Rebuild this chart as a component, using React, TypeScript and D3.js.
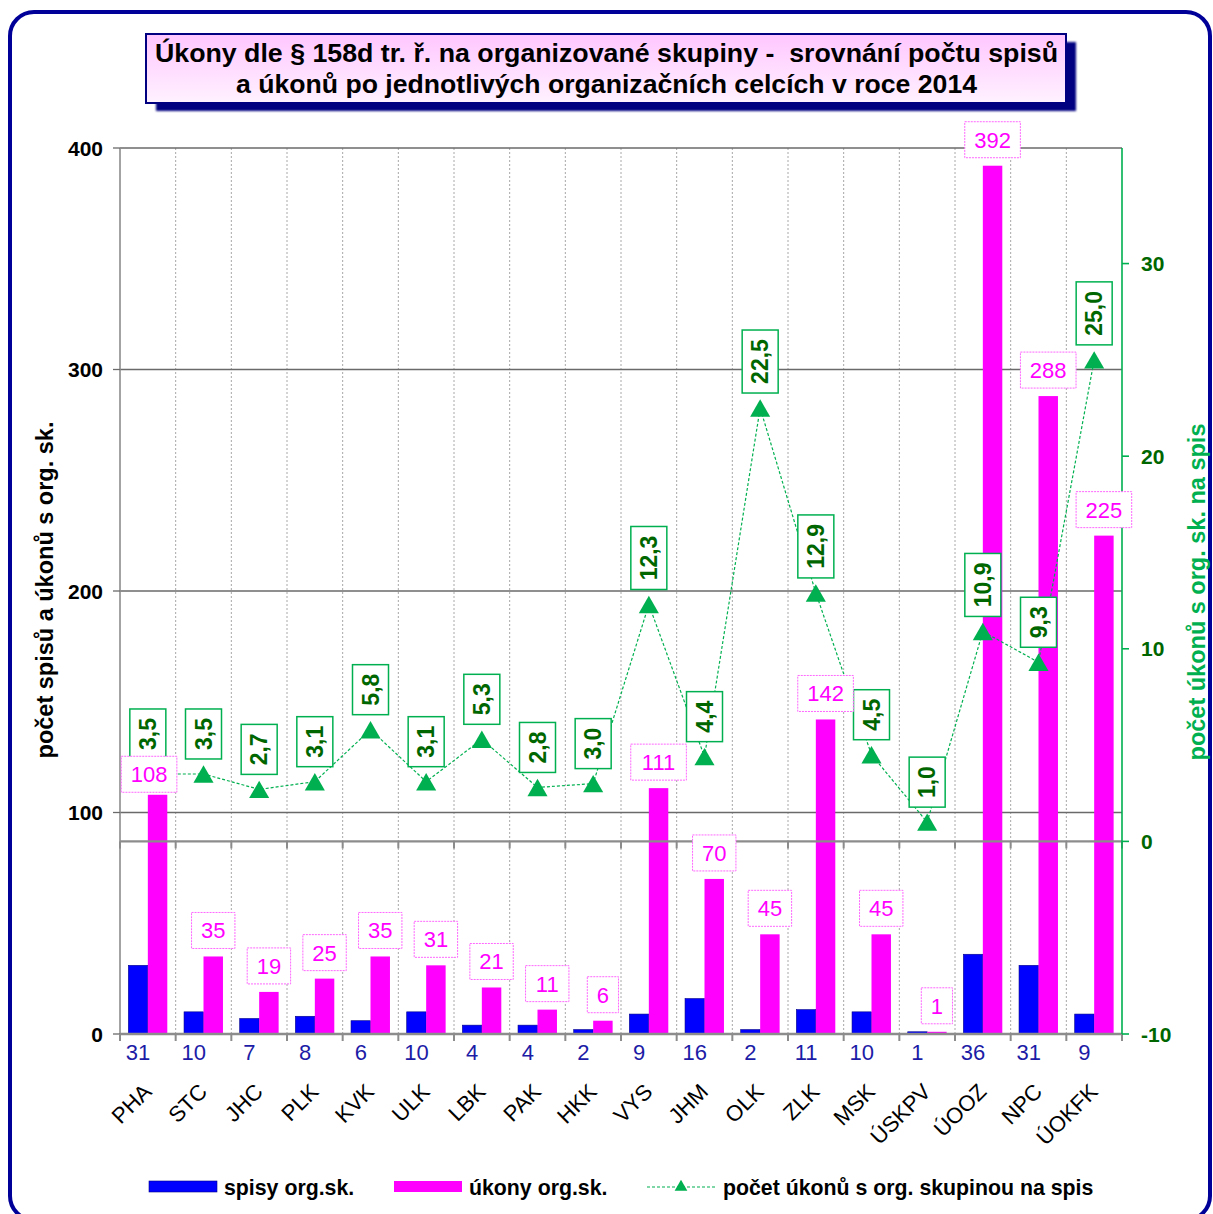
import React from "react";
import * as d3 from "d3";

const categories = ["PHA", "STC", "JHC", "PLK", "KVK", "ULK", "LBK", "PAK", "HKK", "VYS", "JHM", "OLK", "ZLK", "MSK", "ÚSKPV", "ÚOOZ", "NPC", "ÚOKFK"];
const spisy = [31, 10, 7, 8, 6, 10, 4, 4, 2, 9, 16, 2, 11, 10, 1, 36, 31, 9];
const ukony = [108, 35, 19, 25, 35, 31, 21, 11, 6, 111, 70, 45, 142, 45, 1, 392, 288, 225];
const ratio = [3.5, 3.5, 2.7, 3.1, 5.8, 3.1, 5.3, 2.8, 3.0, 12.3, 4.4, 22.5, 12.9, 4.5, 1.0, 10.9, 9.3, 25.0];
const leftTicks = [0, 100, 200, 300, 400];
const rightTicks = [-10, 0, 10, 20, 30];
const titleLines = [
  "Úkony dle § 158d tr. ř. na organizované skupiny -  srovnání počtu spisů",
  "a úkonů po jednotlivých organizačních celcích v roce 2014",
];
const leftTitle = "počet spisů a úkonů s org. sk.";
const rightTitle = "počet úkonů s org. sk. na spis";
const legendLabels = ["spisy org.sk.", "úkony org.sk.", "počet úkonů s org. skupinou na spis"];

const FONT = "Arial, 'Liberation Sans', Helvetica, sans-serif";
const W = 1213, H = 1214;
const L = 120, R = 1122, T = 148, B = 1034;
const BLUE = "#0000ff", MAG = "#ff00ff", GREEN = "#00b050", DKGREEN = "#006600", NAVY = "#000099";
const labelNudge: Record<string, [number, number]> = { PHA: [-8.5, 5.5] };
const titleLayout = [
  { x: 155, y: 62, w: 903 },
  { x: 236, y: 93, w: 741 },
];

const x = d3.scaleBand<string>().domain(categories).range([L, R]).padding(0);
const sub = d3.scaleBand<string>().domain(["s", "u"]).range([0, x.bandwidth()]).paddingInner(0).paddingOuter(0.43);
const yL = d3.scaleLinear().domain([0, 400]).range([B, T]);
const yR = d3.scaleLinear().domain([-10, 36]).range([B, T]);
const fmt = (v: number) => d3.format(".1f")(v).replace(".", ",");

export default function App() {
  const cx = (c: string) => (x(c) as number) + x.bandwidth() / 2;
  const bounds = d3.range(categories.length + 1).map((i) => L + i * x.bandwidth());
  const line = d3.line<number>().x((_, i) => cx(categories[i])).y((d) => yR(d));
  const triSize = 175;
  const tri = d3.symbol().type(d3.symbolTriangle).size(triSize)() as string;
  const triH = Math.sqrt((triSize * 4) / Math.sqrt(3)) * (Math.sqrt(3) / 2);
  const triSmall = d3.symbol().type(d3.symbolTriangle).size(70)() as string;

  return (
    <svg width={W} height={H} style={{ position: "absolute", left: 0, top: 0, background: "#fff" }} fontFamily={FONT}>
      <defs>
        <linearGradient id="tg" x1="0" y1="0" x2="0" y2="1">
          <stop offset="0" stopColor="#ffc6ff" />
          <stop offset="1" stopColor="#fff2ff" />
        </linearGradient>
        <filter id="blur" x="-5%" y="-20%" width="110%" height="140%">
          <feGaussianBlur stdDeviation="1" />
        </filter>
      </defs>
      {/* outer frame */}
      <rect x={10} y={12} width={1200} height={1208} rx={24} fill="#fff" stroke={NAVY} strokeWidth={4} />

      {/* title */}
      <rect x={156} y={42} width={920} height={69} fill="#000080" filter="url(#blur)" />
      <rect x={146} y={34} width={920} height={69} fill="url(#tg)" stroke="#000080" strokeWidth={2} />
      {titleLines.map((t, i) => (
        <text key={i} x={titleLayout[i].x} y={titleLayout[i].y} textLength={titleLayout[i].w} lengthAdjust="spacingAndGlyphs" fontWeight="bold" fontSize={25} fill="#000" style={{ whiteSpace: "pre" }}>
          {t}
        </text>
      ))}

      {/* vertical dotted grid */}
      {bounds.slice(1, -1).map((b, i) => (
        <line key={i} x1={b} x2={b} y1={T} y2={B} stroke="#a8a8a8" strokeWidth={1} strokeDasharray="2,2" />
      ))}
      {/* horizontal grid */}
      {leftTicks.filter((t) => t > 0).map((t) => (
        <line key={t} x1={L} x2={R} y1={yL(t)} y2={yL(t)} stroke="#6a6a6a" strokeWidth={1.3} />
      ))}

      {/* bars */}
      {categories.map((c, i) => (
        <g key={c}>
          <rect x={(x(c) as number) + (sub("s") as number)} y={yL(spisy[i])} width={sub.bandwidth()} height={B - yL(spisy[i])} fill={BLUE} stroke="#00008b" strokeWidth={0.6} />
          <rect x={(x(c) as number) + (sub("u") as number)} y={yL(ukony[i])} width={sub.bandwidth()} height={B - yL(ukony[i])} fill={MAG} />
        </g>
      ))}

      {/* left axis */}
      <line x1={L} x2={L} y1={T} y2={B} stroke="#8c8c8c" strokeWidth={1.6} />
      {leftTicks.map((t) => (
        <g key={t}>
          <line x1={113} x2={L} y1={yL(t)} y2={yL(t)} stroke="#6a6a6a" strokeWidth={1.3} />
          <text x={103} y={yL(t)} dy="0.36em" textAnchor="end" fontWeight="bold" fontSize={21} fill="#000">
            {t}
          </text>
        </g>
      ))}
      <text transform={`translate(53,590) rotate(-90)`} textAnchor="middle" fontWeight="bold" fontSize={23.5} fill="#000">
        {leftTitle}
      </text>

      {/* zero line of secondary axis and bottom axis */}
      {[yR(0), B].map((yy, k) => (
        <g key={k}>
          <line x1={L} x2={R} y1={yy} y2={yy} stroke="#8c8c8c" strokeWidth={2.4} />
          {bounds.map((b, i) => (
            <line key={i} x1={b} x2={b} y1={yy} y2={yy + 7} stroke="#8c8c8c" strokeWidth={2} />
          ))}
        </g>
      ))}

      {/* right axis */}
      <line x1={R} x2={R} y1={T} y2={B} stroke={GREEN} strokeWidth={1.6} />
      {rightTicks.map((t) => (
        <g key={t}>
          <line x1={R} x2={R + 7} y1={yR(t)} y2={yR(t)} stroke={GREEN} strokeWidth={1.6} />
          <text x={1141} y={yR(t)} dy="0.36em" textAnchor="start" fontWeight="bold" fontSize={21} fill={DKGREEN}>
            {t}
          </text>
        </g>
      ))}
      <text transform={`translate(1205,592) rotate(-90)`} textAnchor="middle" fontWeight="bold" fontSize={23.5} fill={GREEN}>
        {rightTitle}
      </text>

      {/* blue value labels under axis */}
      {categories.map((c, i) => (
        <text key={c} x={(x(c) as number) + (sub("s") as number) + sub.bandwidth() / 2} y={1060} textAnchor="middle" fontSize={22} fill="#1c1ca6">
          {spisy[i]}
        </text>
      ))}

      {/* category labels */}
      {categories.map((c) => (
        <text key={c} transform={`translate(${cx(c) + 5},1093) rotate(-45)`} textAnchor="end" fontSize={22} fill="#000">
          {c}
        </text>
      ))}

      {/* ratio line */}
      <path d={line(ratio) as string} fill="none" stroke={GREEN} strokeWidth={1.2} strokeDasharray="3,2" />
      {ratio.map((v, i) => (
        <path key={i} d={tri} transform={`translate(${cx(categories[i])},${yR(v) + triH / 6})`} fill={GREEN} />
      ))}

      {/* ratio labels */}
      {ratio.map((v, i) => {
        const s = fmt(v);
        const len = s.length === 3 ? 32 : 45;
        const h = len + 18;
        const bx = cx(categories[i]) - 18;
        const by = yR(v) - 15 - h;
        return (
          <g key={i}>
            <rect x={bx} y={by} width={36} height={h} fill="#fff" stroke={GREEN} strokeWidth={1.5} />
            <text transform={`translate(${bx + 18},${by + h / 2}) rotate(-90)`} dy="0.36em" textAnchor="middle" fontWeight="bold" fontSize={23} fill={DKGREEN}>
              {s}
            </text>
          </g>
        );
      })}

      {/* úkony labels */}
      {categories.map((c, i) => {
        const s = String(ukony[i]);
        const w = s.length * 12.2 + 19;
        const [dx, dy] = labelNudge[c] || [0, 0];
        const mx = (x(c) as number) + (sub("u") as number) + sub.bandwidth() / 2 + dx;
        const bottom = yL(ukony[i]) - 8 + dy;
        return (
          <g key={c}>
            <rect x={mx - w / 2} y={bottom - 36} width={w} height={36} fill="#fff" stroke="#ff66ff" strokeWidth={1} strokeDasharray="2,1" />
            <text x={mx} y={bottom - 18} dy="0.36em" textAnchor="middle" fontSize={22} fill={MAG}>
              {s}
            </text>
          </g>
        );
      })}

      {/* legend */}
      <rect x={149} y={1181} width={68} height={11} fill={BLUE} stroke="#00008b" strokeWidth={0.6} />
      <text x={224} y={1187} dy="0.36em" fontWeight="bold" fontSize={21.3} fill="#000">{legendLabels[0]}</text>
      <rect x={394} y={1181} width={68} height={11} fill={MAG} />
      <text x={469} y={1187} dy="0.36em" fontWeight="bold" fontSize={21.3} fill="#000">{legendLabels[1]}</text>
      <line x1={647} x2={715} y1={1187} y2={1187} stroke={GREEN} strokeWidth={1.2} strokeDasharray="3,2" />
      <path d={triSmall} transform={`translate(681,1187)`} fill={GREEN} />
      <text x={723} y={1187} dy="0.36em" fontWeight="bold" fontSize={21.3} fill="#000">{legendLabels[2]}</text>
    </svg>
  );
}
